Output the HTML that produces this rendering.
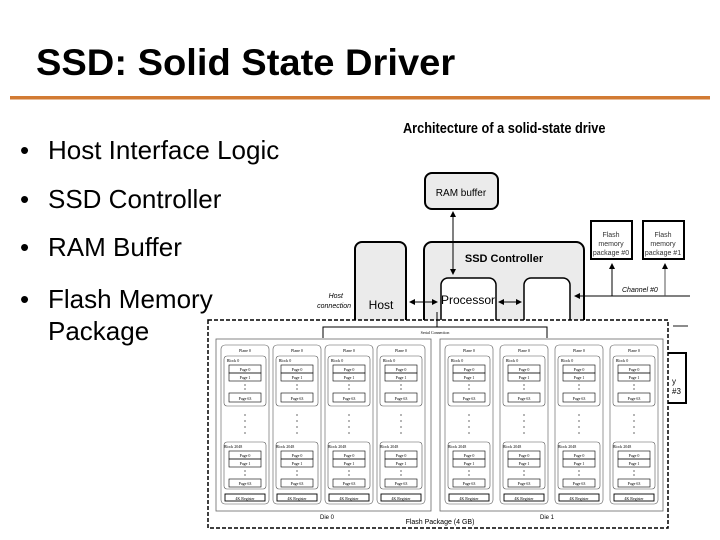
<!DOCTYPE html>
<html><head><meta charset="utf-8"><style>
html,body{margin:0;padding:0;background:#fff;}
svg{display:block;}
text{font-family:"Liberation Sans",sans-serif;}
.s{font-family:"Liberation Serif",serif;font-size:4px;text-anchor:middle;}
</style></head><body>
<svg width="720" height="540" viewBox="0 0 720 540" xmlns="http://www.w3.org/2000/svg">
<defs>
<marker id="a" markerWidth="6" markerHeight="6" refX="5" refY="3" orient="auto-start-reverse"><path d="M0,0 L6,3 L0,6z" fill="#000"/></marker>
</defs>
<text x="36" y="75" font-size="37" font-weight="bold" transform="translate(36,0) scale(1.03,1) translate(-36,0)">SSD: Solid State Driver</text>
<rect x="10" y="96" width="700" height="3.5" fill="#d27b33"/>
<g font-size="26" fill="#000">
<text x="20" y="159">•</text><text x="48" y="159">Host Interface Logic</text>
<text x="20" y="208">•</text><text x="48" y="208">SSD Controller</text>
<text x="20" y="256">•</text><text x="48" y="256">RAM Buffer</text>
<text x="20" y="308">•</text><text x="48" y="308">Flash Memory</text>
<text x="48" y="340">Package</text>
</g>
<!-- top diagram -->
<text x="403" y="133" font-size="15" font-weight="bold" transform="translate(403,0) scale(0.85,1) translate(-403,0)">Architecture of a solid-state drive</text>
<rect x="425" y="173" width="73" height="36" rx="7" fill="#ebebeb" stroke="#000" stroke-width="2"/>
<text x="461" y="196" font-size="10" text-anchor="middle">RAM buffer</text>
<rect x="424" y="242" width="160" height="100" rx="8" fill="#ebebeb" stroke="#000" stroke-width="2"/>
<text x="504" y="262" font-size="11" font-weight="bold" text-anchor="middle">SSD Controller</text>
<rect x="355" y="242" width="51" height="100" rx="7" fill="#ebebeb" stroke="#000" stroke-width="2"/>
<text x="381" y="309" font-size="12" text-anchor="middle">Host</text>
<text x="343" y="298" font-size="7" font-style="italic" text-anchor="end">Host</text>
<text x="351" y="308" font-size="7" font-style="italic" text-anchor="end">connection</text>
<rect x="441" y="278" width="55" height="60" rx="7" fill="#fff" stroke="#000" stroke-width="1.5"/>
<text x="468" y="304" font-size="12" text-anchor="middle">Processor</text>
<rect x="524" y="278" width="46" height="60" rx="7" fill="#fff" stroke="#000" stroke-width="1.5"/>
<line x1="453" y1="212" x2="453" y2="274" stroke="#000" marker-start="url(#a)" marker-end="url(#a)"/>
<line x1="410" y1="302" x2="437" y2="302" stroke="#000" marker-start="url(#a)" marker-end="url(#a)"/>
<line x1="499" y1="302" x2="521" y2="302" stroke="#000" marker-start="url(#a)" marker-end="url(#a)"/>
<line x1="690" y1="296" x2="575" y2="296" stroke="#000" marker-end="url(#a)"/>
<rect x="591" y="221" width="41" height="38" fill="#fff" stroke="#000" stroke-width="2"/>
<text x="611" y="237" font-size="7" text-anchor="middle" fill="#333">Flash</text>
<text x="611" y="246" font-size="7" text-anchor="middle" fill="#333">memory</text>
<text x="611" y="255" font-size="7" text-anchor="middle" fill="#333">package #0</text>
<rect x="643" y="221" width="41" height="38" fill="#fff" stroke="#000" stroke-width="2"/>
<text x="663" y="237" font-size="7" text-anchor="middle" fill="#333">Flash</text>
<text x="663" y="246" font-size="7" text-anchor="middle" fill="#333">memory</text>
<text x="663" y="255" font-size="7" text-anchor="middle" fill="#333">package #1</text>
<line x1="612" y1="296" x2="612" y2="264" stroke="#000" marker-end="url(#a)"/>
<line x1="665" y1="296" x2="665" y2="264" stroke="#555" marker-end="url(#a)"/>
<text x="622" y="292" font-size="7" font-style="italic">Channel #0</text>
<line x1="673" y1="326" x2="688" y2="326" stroke="#666" stroke-width="1.5"/>
<rect x="666" y="353" width="20" height="50" fill="#fff" stroke="#000" stroke-width="2"/>
<text x="672" y="384" font-size="8">y</text><text x="672" y="394" font-size="8">#3</text>
<!-- bottom flash package -->
<rect x="208" y="320" width="460" height="208" fill="#fff" stroke="#000" stroke-width="1.5" stroke-dasharray="4,2"/>
<line x1="437" y1="312" x2="437" y2="327" stroke="#000"/>
<polyline points="323,338 323,327 547,327 547,338" fill="none" stroke="#000"/>
<text x="435" y="334" class="s">Serial Connection</text>
<rect x="216" y="339" width="215" height="172" fill="#fff" stroke="#666" stroke-width="0.8"/>
<rect x="440" y="339" width="223" height="172" fill="#fff" stroke="#666" stroke-width="0.8"/>
<text x="327" y="519" font-family="Liberation Serif" font-size="6" text-anchor="middle">Die 0</text>
<text x="547" y="519" font-family="Liberation Serif" font-size="6" text-anchor="middle">Die 1</text>
<text x="440" y="524" font-family="Liberation Serif" font-size="7" text-anchor="middle">Flash Package (4 GB)</text>
<g id="pl" transform="translate(221,345)" fill="none" stroke="#555" stroke-width="0.6">
<rect x="0" y="0" width="48" height="159" rx="4"/>
<rect x="3" y="11" width="42" height="50" rx="3"/>
<rect x="8" y="20" width="32" height="8" stroke="#000"/><rect x="8" y="28" width="32" height="8" stroke="#000"/>
<rect x="8" y="48" width="32" height="9" stroke="#000"/>
<rect x="3" y="97" width="42" height="47" rx="3"/>
<rect x="8" y="106" width="32" height="8" stroke="#000"/><rect x="8" y="114" width="32" height="8" stroke="#000"/>
<rect x="8" y="134" width="32" height="8" stroke="#000"/>
<rect x="4" y="149" width="40" height="7" stroke="#000" stroke-width="0.9"/>
<g stroke="none" fill="#000"><circle cx="24" cy="40" r=".6"/><circle cx="24" cy="44" r=".6"/><circle cx="24" cy="70" r=".6"/><circle cx="24" cy="76" r=".6"/><circle cx="24" cy="82" r=".6"/><circle cx="24" cy="88" r=".6"/><circle cx="24" cy="126" r=".6"/><circle cx="24" cy="130" r=".6"/>
<text x="24" y="7" class="s">Plane 0</text><text x="12" y="17" class="s">Block 0</text>
<text x="24" y="26" class="s">Page 0</text><text x="24" y="34" class="s">Page 1</text><text x="24" y="55" class="s">Page 63</text>
<text x="12" y="103" class="s">Block 2048</text>
<text x="24" y="112" class="s">Page 0</text><text x="24" y="120" class="s">Page 1</text><text x="24" y="140" class="s">Page 63</text>
<text x="24" y="155" class="s" font-size="5">4K Register</text></g>
</g>
<use href="#pl" transform="translate(52,0)"/>
<use href="#pl" transform="translate(104,0)"/>
<use href="#pl" transform="translate(156,0)"/>
<use href="#pl" transform="translate(224,0)"/>
<use href="#pl" transform="translate(279,0)"/>
<use href="#pl" transform="translate(334,0)"/>
<use href="#pl" transform="translate(389,0)"/>
</svg>
</body></html>
